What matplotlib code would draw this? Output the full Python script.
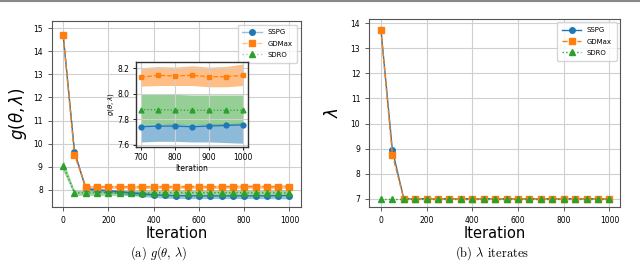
import matplotlib
matplotlib.use('Agg')
import matplotlib.pyplot as plt
from matplotlib.lines import Line2D
from matplotlib.colors import to_rgba

# iterations (every 50)
iters = [0, 50, 100, 150, 200, 250, 300, 350, 400, 450, 500,
         550, 600, 650, 700, 750, 800, 850, 900, 950, 1000]

# g(theta, lambda): mean and band (lower / upper)
sspg_g = [14.70, 9.65, 8.05, 8.00, 7.96, 7.92, 7.87, 7.83, 7.79, 7.76, 7.75,
          7.745, 7.74, 7.74, 7.74, 7.745, 7.745, 7.74, 7.745, 7.75, 7.755]
sspg_lo = [14.64, 9.56, 7.98, 7.93, 7.88, 7.82, 7.76, 7.71, 7.67, 7.64, 7.63,
           7.62, 7.62, 7.62, 7.62, 7.625, 7.625, 7.62, 7.62, 7.615, 7.61]
sspg_hi = [14.76, 9.73, 8.10, 8.06, 8.02, 7.98, 7.93, 7.88, 7.83, 7.79, 7.77,
           7.765, 7.76, 7.76, 7.76, 7.76, 7.765, 7.76, 7.765, 7.765, 7.77]

gdmax_g = [14.70, 9.52, 8.12, 8.13, 8.13, 8.13, 8.13, 8.13, 8.13, 8.135, 8.13,
           8.14, 8.135, 8.13, 8.13, 8.145, 8.14, 8.145, 8.135, 8.135, 8.145]
gdmax_lo = [14.64, 9.45, 8.05, 8.06, 8.06, 8.06, 8.06, 8.06, 8.06, 8.06, 8.06,
            8.06, 8.06, 8.06, 8.06, 8.065, 8.065, 8.065, 8.055, 8.055, 8.065]
gdmax_hi = [14.76, 9.59, 8.19, 8.20, 8.20, 8.20, 8.20, 8.20, 8.20, 8.21, 8.20,
            8.21, 8.21, 8.20, 8.205, 8.215, 8.21, 8.22, 8.21, 8.215, 8.235]

sdro_g = [9.05, 7.87, 7.87, 7.87, 7.875, 7.875, 7.87, 7.87, 7.87, 7.875, 7.875,
          7.87, 7.875, 7.875, 7.875, 7.875, 7.87, 7.87, 7.87, 7.87, 7.87]
sdro_lo = [8.82, 7.77, 7.76, 7.76, 7.76, 7.76, 7.76, 7.76, 7.76, 7.76, 7.76,
           7.76, 7.76, 7.76, 7.76, 7.76, 7.76, 7.76, 7.76, 7.76, 7.765]
sdro_hi = [9.28, 7.97, 7.99, 7.99, 7.99, 7.99, 7.99, 7.99, 7.99, 7.99, 7.99,
           7.99, 7.99, 7.99, 7.995, 7.995, 7.995, 7.99, 7.99, 7.99, 7.99]

# lambda iterates
sspg_lam = [13.75, 8.95, 7.0, 7.0, 7.0, 7.0, 7.0, 7.0, 7.0, 7.0, 7.0,
            7.0, 7.0, 7.0, 7.0, 7.0, 7.0, 7.0, 7.0, 7.0, 7.0]
gdmax_lam = [13.75, 8.75, 7.0, 7.0, 7.0, 7.0, 7.0, 7.0, 7.0, 7.0, 7.0,
             7.0, 7.0, 7.0, 7.0, 7.0, 7.0, 7.0, 7.0, 7.0, 7.0]
sdro_lam = [7.0, 7.0, 7.0, 7.0, 7.0, 7.0, 7.0, 7.0, 7.0, 7.0, 7.0,
            7.0, 7.0, 7.0, 7.0, 7.0, 7.0, 7.0, 7.0, 7.0, 7.0]

labels = ['SSPG', 'GDMax', 'SDRO']
colors = ['#1f77b4', '#ff7f0e', '#2ca02c']
styles = ['-', '--', ':']
marks = ['o', 's', '^']

g_mean = [sspg_g, gdmax_g, sdro_g]
g_lo = [sspg_lo, gdmax_lo, sdro_lo]
g_hi = [sspg_hi, gdmax_hi, sdro_hi]
lam = [sspg_lam, gdmax_lam, sdro_lam]

f = plt.figure(figsize=(6.4, 2.64), dpi=100)


def style_axes(ax, tsize=5.5):
    ax.grid(True, color='#d0d0d0', linewidth=0.8)
    ax.set_axisbelow(True)
    ax.tick_params(labelsize=tsize, length=3, width=0.6, color='#444444')
    for s in ax.spines.values():
        s.set_color('#555555')
        s.set_linewidth(0.8)


# ---- left: g(theta, lambda)
ax1 = f.add_axes([0.081, 0.216, 0.389, 0.704])
for i in range(3):
    ax1.fill_between(iters, g_lo[i], g_hi[i], color=colors[i], alpha=0.45, linewidth=0)
    ax1.plot(iters, g_mean[i], linestyle=styles[i], marker=marks[i], color=colors[i],
             linewidth=1, markersize=4, label=labels[i])
ax1.set_xlim(-50, 1050)
ax1.set_ylim(7.26, 15.3)
ax1.set_xticks([0, 200, 400, 600, 800, 1000])
ax1.set_yticks([8, 9, 10, 11, 12, 13, 14, 15])
style_axes(ax1)
ax1.set_xlabel('Iteration', fontsize=10.5, labelpad=1)
ax1.set_ylabel(r'$g(\theta,\lambda)$', fontsize=12, labelpad=3)
leg = ax1.legend(loc='upper right', fontsize=5, handlelength=2.8, borderpad=0.7,
                 labelspacing=0.75, fancybox=True)
for ln, c in zip(leg.get_lines(), colors):
    ln.set_color(to_rgba(c, 0.45))
    ln.set_markerfacecolor(c)
    ln.set_markeredgecolor(c)

# inset
axi = f.add_axes([0.2125, 0.443, 0.175, 0.322])
for i in range(3):
    axi.fill_between(iters[14:], g_lo[i][14:], g_hi[i][14:], color=colors[i], alpha=0.5, linewidth=0)
    axi.plot(iters[14:], g_mean[i][14:], linestyle=styles[i], marker=marks[i], color=colors[i],
             linewidth=0.9, markersize=3.5)
axi.set_xlim(686, 1014)
axi.set_ylim(7.58, 8.25)
axi.set_xticks([700, 800, 900, 1000])
axi.set_yticks([7.6, 7.8, 8.0, 8.2])
axi.grid(True, color='#d0d0d0', linewidth=0.8)
axi.tick_params(labelsize=5.5, length=2.5, width=0.6, pad=2)
for s in axi.spines.values():
    s.set_color('#333333')
    s.set_linewidth(1.0)
axi.set_xlabel('Iteration', fontsize=5.5, labelpad=1)
axi.set_ylabel(r'$g(\theta,\lambda)$', fontsize=5, labelpad=1)

# ---- right: lambda iterates
ax2 = f.add_axes([0.577, 0.216, 0.392, 0.712])
for i in range(3):
    ax2.plot(iters, lam[i], linestyle=styles[i], marker=marks[i], color=colors[i],
             linewidth=1, markersize=4, label=labels[i])
ax2.set_xlim(-51, 1047)
ax2.set_ylim(6.67, 14.17)
ax2.set_xticks([0, 200, 400, 600, 800, 1000])
ax2.set_yticks([7, 8, 9, 10, 11, 12, 13, 14])
style_axes(ax2)
ax2.set_xlabel('Iteration', fontsize=10.5, labelpad=1)
ax2.set_ylabel(r'$\lambda$', fontsize=12, labelpad=6)
ax2.legend(loc='upper right', fontsize=5, handlelength=2.8, borderpad=0.7,
           labelspacing=0.75, fancybox=True)

# captions
plt.rcParams['mathtext.fontset'] = 'cm'
f.text(0.248, 0.027, r'(a) $g(\theta,\,\lambda)$', ha='center', fontsize=9, family='cmr10')
f.text(0.769, 0.027, r'(b) $\lambda$ iterates', ha='center', fontsize=9, family='cmr10')

# rule at the top
f.add_artist(Line2D([0, 1], [0.997, 0.997], transform=f.transFigure, color='#888888', linewidth=1.5))

f.savefig('out.png', dpi=100)
